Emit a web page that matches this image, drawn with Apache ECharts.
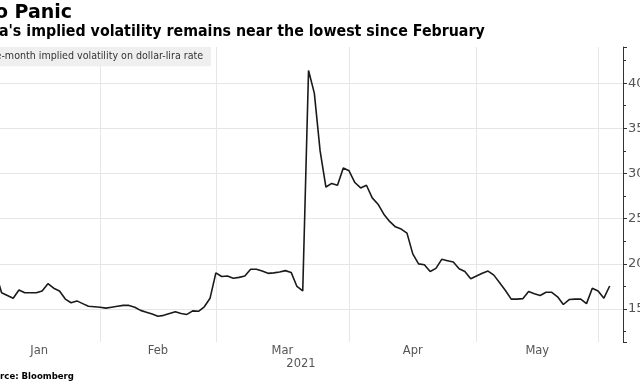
<!DOCTYPE html>
<html><head><meta charset="utf-8">
<script src="https://cdn.jsdelivr.net/npm/echarts@6/dist/echarts.min.js"></script>
<style>html,body{margin:0;padding:0;background:#fff;overflow:hidden}#c{width:640px;height:384px}</style>
</head><body><div id="c"></div>
<script>
const titleText = 'No Panic';
const subtitleText = "Lira's implied volatility remains near the lowest since February";
const seriesName = 'One-month implied volatility on dollar-lira rate';
const sourceText = 'Source: Bloomberg';
const monthNames = ['Jan', 'Feb', 'Mar', 'Apr', 'May', 'Jun'];
const yearLabel = '2021';
const yearMonth = 'Mar';
const firstDate = '2021-01-06';
// one value per weekday starting at firstDate
const values = [
  19.0, 16.8, 16.5, 16.2, 17.1, 16.8, 16.8, 16.8, 17.0, 17.8,
  17.3, 17.0, 16.1, 15.7, 15.9, 15.6, 15.3, 15.25, 15.2, 15.1,
  15.2, 15.3, 15.4, 15.4, 15.2, 14.85, 14.65, 14.45, 14.2, 14.3,
  14.5, 14.7, 14.5, 14.4, 14.8, 14.75, 15.25, 16.2, 19.0, 18.6,
  18.65, 18.4, 18.5, 18.65, 19.4, 19.4, 19.2, 18.95, 19.0, 19.1,
  19.25, 19.05, 17.5, 17.0, 41.4, 38.9, 32.5, 28.5, 28.9, 28.7,
  30.6, 30.3, 29.0, 28.4, 28.7, 27.3, 26.6, 25.5, 24.7, 24.1,
  23.85, 23.4, 21.1, 20.0, 19.9, 19.15, 19.5, 20.5, 20.35, 20.2,
  19.45, 19.15, 18.35, 18.65, 18.95, 19.2, 18.75, 17.9, 17.05, 16.1,
  16.1, 16.15, 16.95, 16.7, 16.5, 16.85, 16.85, 16.35, 15.5, 16.05,
  16.1, 16.1, 15.6, 17.3, 17.0, 16.2, 17.55
];

function weekdays(from, to) {
  const out = [];
  const d = new Date(from + 'T00:00:00Z');
  const end = new Date(to + 'T00:00:00Z');
  while (d <= end) {
    const w = d.getUTCDay();
    if (w !== 0 && w !== 6) out.push(d.toISOString().slice(0, 10));
    d.setUTCDate(d.getUTCDate() + 1);
  }
  return out;
}
const allDays = weekdays('2021-01-01', '2021-06-30');
const offset = allDays.indexOf(firstDate);
const monthStart = monthNames.map((m, k) => allDays.findIndex(d => +d.slice(5, 7) === k + 1) - offset);
const monthMid = monthNames.slice(0, -1).map((m, k) => (monthStart[k] + monthStart[k + 1]) / 2);
const points = values.map((v, i) => [i, v]);

const COND = "'DejaVu Sans Condensed', 'DejaVu Sans', sans-serif";
const SANS = "'DejaVu Sans', sans-serif";
const chart = echarts.init(document.getElementById('c'), null, {renderer: 'canvas'});
chart.setOption({
  animation: false,
  backgroundColor: '#ffffff',
  title: [
    {text: titleText, left: -21, top: 4, padding: 0,
     textStyle: {fontFamily: SANS, fontSize: 19, fontWeight: 'bold', color: '#000'}},
    {text: subtitleText, left: -22, top: 24, padding: 0,
     textStyle: {fontFamily: COND, fontSize: 15.8, fontWeight: 'bold', color: '#000'}},
    {text: sourceText, left: -18, top: 372, padding: 0,
     textStyle: {fontFamily: COND, fontSize: 9.5, fontWeight: 'bold', color: '#000'}}
  ],
  legend: {
    data: [seriesName], left: -46, top: 47, padding: [4, 8, 4, 8],
    backgroundColor: '#efefef', itemWidth: 14, itemHeight: 14, itemGap: 5,
    textStyle: {fontFamily: COND, fontSize: 10.6, color: '#333'}
  },
  grid: {left: 0, right: 17, top: 47, bottom: 42, containLabel: false, outerBoundsMode: 'none'},
  xAxis: {
    type: 'value', min: 0.725, max: 108.3,
    axisLine: {show: false},
    axisTick: {show: false, customValues: monthStart.slice(1)},
    splitLine: {show: true, lineStyle: {color: '#e6e6e6', width: 1}},
    axisLabel: {
      customValues: monthMid, margin: 3,
      fontFamily: SANS, fontSize: 11.5, color: '#555',
      formatter: v => {
        const m = monthNames[monthMid.indexOf(v)] || '';
        return m === yearMonth ? '{a|' + m + '}\n{b|' + yearLabel + '}' : m;
      },
      rich: {
        a: {fontFamily: SANS, fontSize: 11.5, color: '#555', lineHeight: 13},
        b: {fontFamily: SANS, fontSize: 11.5, color: '#555', lineHeight: 13, padding: [0, 0, 0, 37]}
      }
    }
  },
  yAxis: {
    type: 'value', position: 'right', min: 11.35, max: 44, splitNumber: 6,
    axisLine: {show: true, lineStyle: {color: '#333', width: 1}},
    axisTick: {show: true, inside: false, length: 4, lineStyle: {color: '#333'}},
    minorTick: {show: true, splitNumber: 2, length: 3, lineStyle: {color: '#333'}},
    splitLine: {show: true, showMinLine: false, showMaxLine: false, lineStyle: {color: '#e6e6e6', width: 1}},
    axisLabel: {showMinLabel: false, showMaxLabel: false, margin: 5, fontFamily: SANS, fontSize: 13, color: '#555'}
  },
  series: [{
    name: seriesName, type: 'line', data: points, symbol: 'none', showSymbol: false,
    lineStyle: {color: '#1a1a1a', width: 1.6}, itemStyle: {color: '#1a1a1a'}, clip: true
  }]
});
</script>
</body></html>
